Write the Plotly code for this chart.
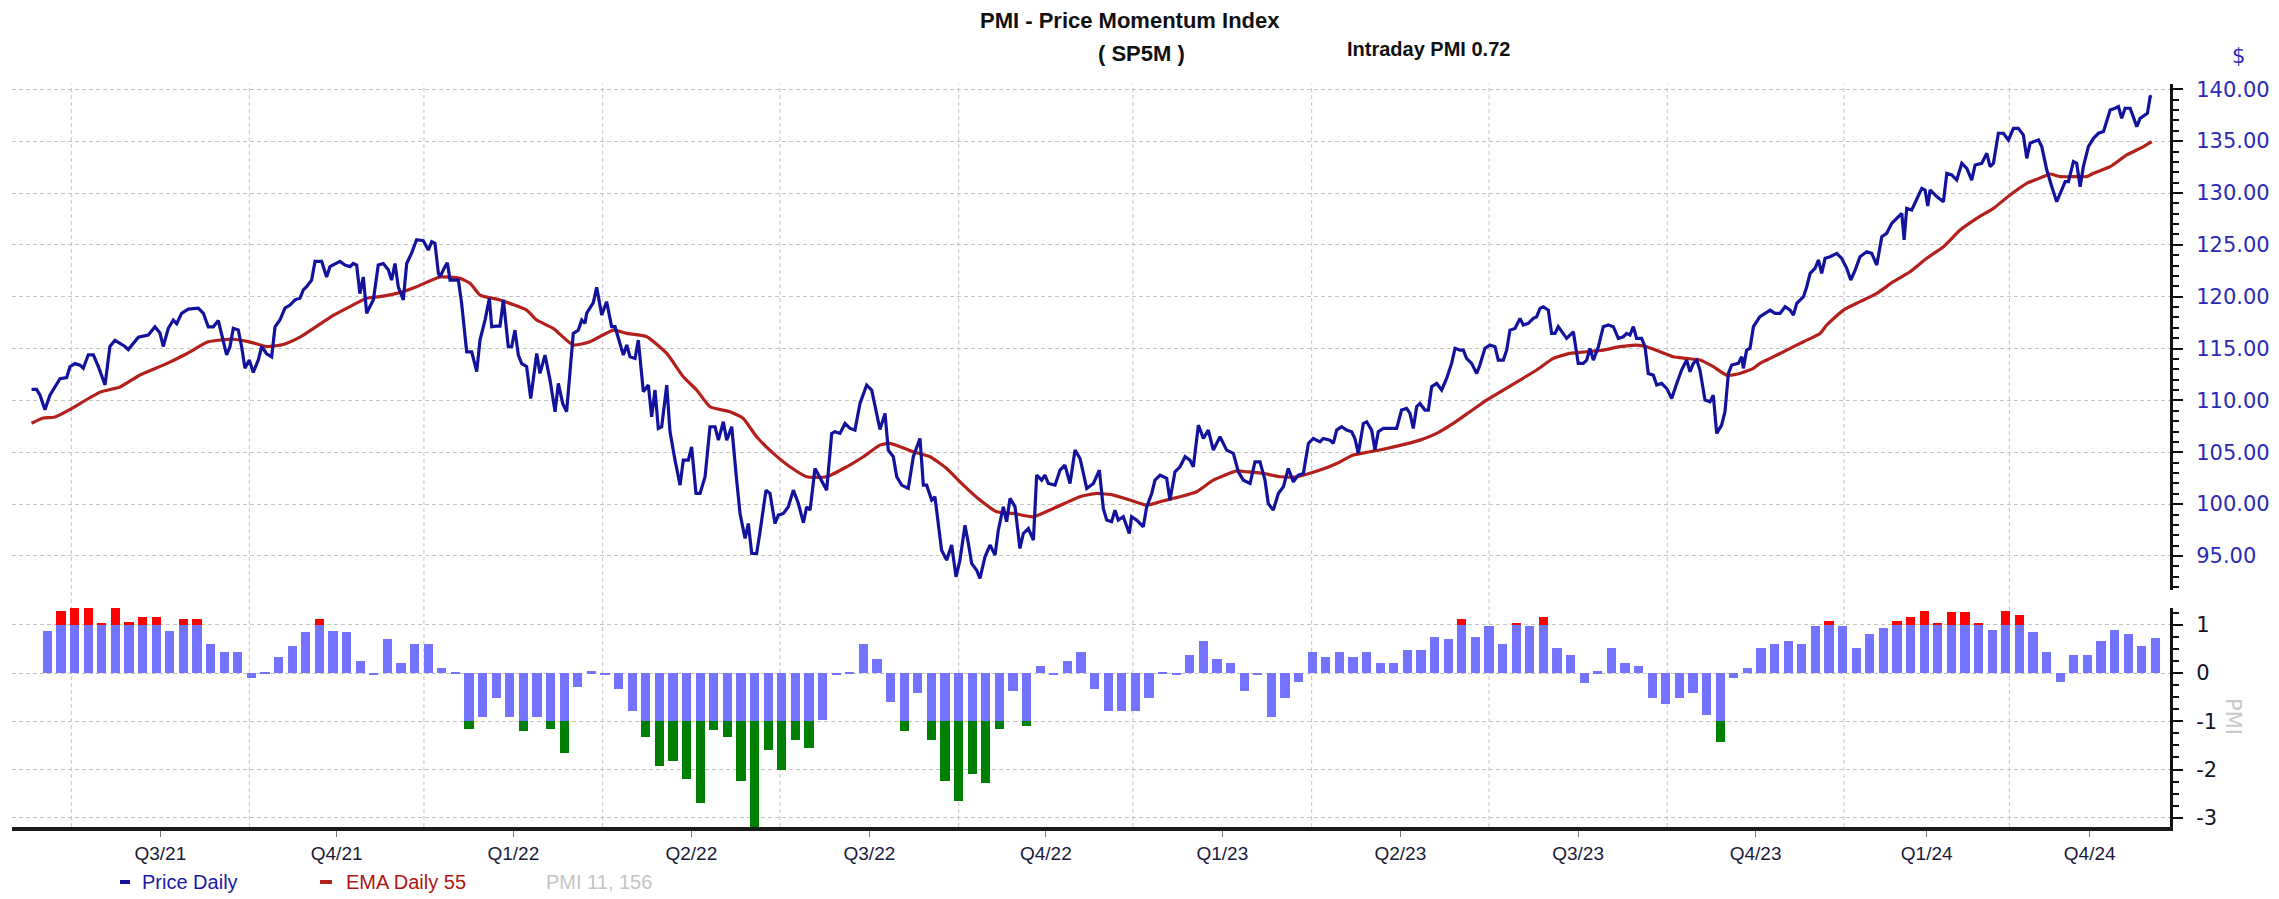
import plotly.graph_objects as go

# ---------------- data ----------------
weeks = list(range(156))
pmi = [0.88, 1.29, 1.44, 1.34, 1.03, 1.34, 1.05, 1.16, 1.16, 0.88, 1.12, 1.12, 0.61, 0.43, 0.43,
       -0.10, 0.01, 0.34, 0.57, 0.84, 1.12, 0.88, 0.84, 0.25, -0.03, 0.71, 0.20, 0.61, 0.61, 0.11, 0.02,
       -1.15, -0.91, -0.51, -0.91, -1.20, -0.91, -1.15, -1.65, -0.28, 0.04, -0.05, -0.33, -0.78, -1.33,
       -1.93, -1.83, -2.19, -2.69, -1.19, -1.33, -2.24, -3.20, -1.60, -2.00,
       -1.38, -1.56, -0.98, -0.03, 0.02, 0.61, 0.29, -0.61, -1.20, -0.42, -1.38, -2.24, -2.65, -2.10,
       -2.28, -1.15, -0.38, -1.10, 0.15, -0.03, 0.25, 0.43, -0.33, -0.78, -0.78, -0.78, -0.51, 0.02,
       -0.04, 0.38, 0.66, 0.29, 0.20, -0.38, -0.03, -0.91, -0.51, -0.19, 0.43, 0.34, 0.43, 0.34, 0.43,
       0.20, 0.20, 0.48, 0.48, 0.75, 0.71, 1.12, 0.75, 0.98, 0.61, 1.03, 0.98, 1.17, 0.52, 0.38, -0.20,
       0.04, 0.52, 0.20, 0.15, -0.52, -0.65, -0.52, -0.42, -0.87, -1.43, -0.11, 0.10, 0.52, 0.61, 0.66,
       0.61, 0.98, 1.07, 0.98, 0.52, 0.80, 0.94, 1.07, 1.17, 1.29, 1.03, 1.26, 1.26, 1.03, 0.89, 1.29,
       1.21, 0.84, 0.43, -0.19, 0.38, 0.38, 0.66, 0.89, 0.80, 0.57, 0.72]

price_wk = [-1.16, -0.79, -0.54, -0.18, 0.19, 0.56, 0.93, 1.42, 1.66, 2.03, 2.4, 2.64, 3.01, 3.38, 3.75, 4.24,
            4.6, 4.97, 5.34, 5.71, 5.95, 6.32, 6.69, 7.05, 7.42, 7.91, 8.28, 8.52, 8.89, 9.26, 9.51, 9.87,
            10.36, 11.1, 11.47, 11.83, 12.2, 12.57, 12.81, 13.18, 13.43, 13.67, 14.04, 14.28, 14.53, 14.85,
            15.14, 15.51, 15.76, 16.12, 16.49, 16.74, 17.1, 17.47, 17.84, 18.21, 18.57, 18.82, 19.06, 19.43,
            19.68, 20.17, 20.53, 20.78, 21.51, 21.88, 22.25, 22.49, 22.74, 22.98, 23.23, 23.48, 23.72, 23.97,
            24.33, 24.7, 25.07, 25.31, 25.56, 25.8, 26.17, 26.42, 26.78, 27.15, 27.64, 28.01, 28.26, 28.5,
            28.75, 28.87, 29.24, 29.41, 29.61, 29.97, 30.22, 30.46, 30.83, 31.2, 31.57, 31.81, 32.18, 32.5,
            32.67, 33.04, 33.28, 33.53, 33.89, 34.14, 34.38, 34.63, 34.87, 35.24, 35.54, 35.98, 36.22, 36.59,
            36.96, 37.33, 37.57, 37.89, 38.18, 38.67, 39.04, 39.29, 39.53, 39.65, 40.14, 40.39, 40.76, 41.12,
            41.49, 41.74, 42.11, 42.35, 42.6, 42.84, 43.21, 43.45, 43.82, 44.19, 44.43, 44.68, 44.92, 45.17,
            45.54, 45.78, 46.15, 46.52, 46.76, 47.13, 47.37, 47.69, 47.99, 48.36, 48.72, 49.09, 49.34, 49.7,
            49.95, 50.32, 50.68, 50.93, 51.3, 51.54, 51.79, 52.15, 52.4, 52.84, 53.13, 53.5, 53.75, 54.12,
            54.48, 54.85, 55.22, 55.59, 55.83, 56.08, 56.44, 56.81, 57.3, 57.67, 57.91, 58.28, 58.65, 59.02,
            59.38, 59.75, 60.24, 60.61, 60.85, 61.22, 61.59, 61.83, 62.2, 62.45, 62.81, 63.3, 63.67, 64.16,
            64.41, 64.65, 65.02, 65.26, 65.75, 66.12, 66.49, 66.81, 67.1, 67.47, 67.72, 67.96, 68.33, 68.57,
            68.94, 69.31, 69.68, 69.92, 70.29, 70.53, 70.78, 71.15, 71.51, 71.76, 72.13, 72.5, 72.74, 73.11,
            73.35, 73.6, 74.09, 74.46, 74.82, 75.19, 75.56, 75.93, 76.42, 76.91, 77.35, 77.64, 77.89, 78.25,
            78.5, 78.74, 79.11, 79.55, 79.72, 80.09, 80.58, 80.83, 81.2, 81.44, 81.81, 82.3, 82.54, 82.91,
            83.28, 83.65, 84.01, 84.26, 84.63, 85.0, 85.36, 85.73, 86.22, 86.71, 87.2, 87.57, 87.94, 88.43,
            88.79, 89.16, 89.53, 89.77, 90.14, 90.51, 90.88, 91.24, 91.61, 91.98, 92.35, 92.72, 93.08, 93.57,
            93.82, 94.31, 94.55, 94.8, 95.16, 95.53, 95.9, 96.14, 96.39, 96.76, 97.0, 97.37, 97.61, 97.86,
            98.23, 98.72, 99.21, 99.57, 99.94, 100.19, 100.43, 100.68, 100.92, 101.29, 101.54, 101.78, 102.15,
            102.52, 102.88, 103.25, 103.5, 103.86, 104.11, 104.35, 104.72, 105.09, 105.33, 105.7, 106.07,
            106.44, 106.68, 107.05, 107.3, 107.54, 107.91, 108.28, 108.52, 108.89, 109.26, 109.5, 109.75,
            109.99, 110.36, 110.6, 110.85, 111.09, 111.34, 111.71, 112.2, 112.56, 112.93, 113.18, 113.42,
            113.67, 114.04, 114.4, 114.77, 115.14, 115.51, 115.87, 116.12, 116.36, 116.61, 116.85, 117.22,
            117.47, 117.71, 118.08, 118.33, 118.69, 119.06, 119.43, 119.8, 120.16, 120.53, 120.78, 121.02,
            121.27, 121.51, 121.88, 122.25, 122.49, 122.74, 123.1, 123.35, 123.6, 123.84, 124.33, 124.58,
            124.7, 124.94, 125.19, 125.44, 125.68, 125.92, 126.3, 126.67, 127.03, 127.4, 127.77, 128.14,
            128.38, 128.63, 129.12, 129.36, 129.61, 129.97, 130.22, 130.46, 130.71, 131.08, 131.57, 131.93,
            132.3, 132.6, 132.92, 133.28, 133.77, 134.14, 134.51, 134.88, 135.24, 135.61, 135.98, 136.35,
            136.52, 136.71, 137.08, 137.45, 137.82, 138.06, 138.26, 138.43, 138.92, 139.41, 139.66, 140.02,
            140.39, 140.76, 141.13, 141.49, 141.74, 142.23, 142.6, 142.84, 143.09, 143.45, 143.82, 144.19,
            144.56, 144.92, 145.29, 145.54, 145.78, 146.03, 146.4, 146.64, 147.01, 147.38, 147.74, 148.11,
            148.36, 148.6, 148.97, 149.21, 149.46, 149.7, 150.07, 150.44, 150.81, 151.18, 151.42, 151.67,
            152.03, 152.28, 152.52, 152.77, 153.14, 153.38, 153.63, 153.87, 154.24, 154.41, 154.61, 154.73]

price = [111.06, 111.06, 110.5, 109.1, 110.5, 111.3, 112.1, 112.2, 113.25, 113.55, 113.4, 113.1, 114.4, 114.4,
         113.25, 111.5, 115.2, 115.8, 115.5, 115.2, 114.9, 115.5, 116.1, 116.2, 116.3, 117.1, 116.5, 115.2,
         116.95, 117.75, 117.4, 118.4, 118.8, 118.9, 118.4, 117.1, 117.1, 117.7, 116.5, 114.4, 115.2, 116.95,
         116.8, 115.2, 113.1, 113.9, 112.7, 113.9, 115.2, 114.5, 114.2, 117.1, 117.75, 118.9, 119.2, 119.7,
         119.85, 120.65, 120.96, 121.6, 123.4, 123.4, 121.9, 122.9, 123.4, 123.05, 122.9, 123.2, 123.05,
         120.3, 121.9, 118.4, 119.05, 119.7, 123.05, 123.2, 122.6, 121.6, 123.2, 120.96, 119.7, 123.2, 124.2,
         125.5, 125.4, 124.5, 125.3, 125.15, 122.25, 121.93, 122.9, 123.28, 121.6, 121.6, 121.6, 119.36,
         114.69, 114.69, 112.77, 115.82, 117.75, 119.84, 117.11, 117.17, 117.17, 119.68, 115.18, 115.18,
         116.78, 114.37, 113.57, 113.25, 110.19, 114.53, 112.6, 114.37, 111.96, 108.91, 111.64, 109.71,
         108.91, 116.46, 116.78, 117.75, 117.43, 118.39, 119.42, 120.9, 118.23, 119.52, 117.11, 117.11,
         115.5, 114.37, 115.34, 114.21, 114.05, 115.82, 110.84, 111.48, 108.42, 111.0, 107.3, 107.46,
         111.48, 107.0, 104.24, 101.83, 104.24, 104.24, 105.53, 101.03, 101.03, 102.64, 107.46, 107.46,
         106.17, 107.94, 106.17, 107.46, 102.31, 99.1, 96.69, 98.13, 95.24, 95.24, 97.33, 101.35, 101.03,
         98.13, 98.94, 99.1, 99.74, 101.35, 100.06, 98.2, 99.74, 99.42, 103.44, 102.48, 101.35, 106.82,
         106.98, 106.82, 107.78, 107.3, 107.14, 109.71, 111.48, 111.0, 109.39, 107.2, 108.75, 105.21,
         104.57, 102.64, 101.83, 101.51, 104.57, 106.33, 101.83, 101.83, 100.39, 100.71, 95.56, 94.6, 96.05,
         92.99, 94.6, 97.97, 96.21, 94.28, 93.63, 92.83, 94.92, 96.05, 95.08, 97.49, 99.74, 98.3, 100.55,
         99.74, 95.72, 97.17, 97.65, 96.53, 102.8, 102.31, 102.8, 101.99, 101.83, 103.28, 103.76, 101.99,
         105.21, 104.4, 101.51, 101.99, 103.28, 99.58, 98.46, 98.3, 99.42, 98.46, 98.78, 97.17, 98.78, 98.46,
         97.81, 99.74, 101.03, 102.31, 102.8, 102.48, 100.39, 103.12, 103.6, 104.57, 104.24, 103.6, 107.62,
         106.33, 107.14, 105.21, 106.49, 105.21, 104.89, 103.12, 102.31, 101.99, 104.08, 104.08, 102.31,
         100.06, 99.42, 101.03, 101.67, 103.44, 102.15, 102.8, 102.96, 105.85, 106.33, 106.0, 106.33,
         106.17, 105.85, 107.14, 107.46, 107.14, 106.98, 106.33, 104.89, 107.78, 107.94, 107.14, 105.21,
         106.98, 107.3, 107.3, 107.3, 109.07, 109.23, 108.75, 107.3, 109.39, 109.71, 109.07, 109.07, 111.32,
         111.64, 111.0, 112.12, 113.57, 115.02, 114.85, 114.85, 114.05, 113.57, 112.6, 113.41, 115.02,
         115.34, 115.18, 113.89, 113.89, 114.85, 116.78, 116.94, 117.91, 117.27, 117.43, 117.91, 118.07,
         118.87, 119.03, 118.71, 116.46, 116.46, 117.11, 116.62, 115.98, 116.62, 113.57, 113.57, 113.89,
         115.02, 113.89, 115.18, 117.11, 117.27, 117.11, 115.98, 116.14, 116.46, 116.3, 117.11, 115.98,
         115.98, 115.18, 112.6, 112.44, 111.48, 111.64, 111.16, 110.19, 111.64, 112.93, 113.89, 112.77,
         113.57, 113.89, 112.93, 110.03, 109.87, 110.51, 106.82, 107.62, 108.91, 112.6, 113.41, 113.57,
         114.21, 113.09, 114.85, 115.02, 117.11, 117.59, 118.07, 118.39, 118.71, 118.39, 118.39, 119.03,
         118.71, 118.23, 119.36, 120.0, 120.96, 122.25, 122.73, 123.54, 122.25, 123.7, 123.86, 124.18,
         123.7, 122.73, 121.61, 122.57, 123.86, 124.34, 124.18, 123.05, 125.79, 126.11, 127.07, 127.56,
         128.04, 125.47, 128.52, 128.36, 129.32, 130.45, 130.29, 128.75, 130.29, 129.65, 129.16, 131.9,
         131.74, 131.25, 132.86, 132.38, 131.25, 132.7, 132.86, 133.83, 132.54, 132.86, 135.76, 135.76,
         135.11, 136.24, 136.24, 135.59, 133.34, 134.79, 134.95, 135.11, 134.47, 132.22, 130.61, 129.16,
         130.29, 131.09, 131.09, 133.02, 132.86, 130.61, 132.54, 134.47, 135.27, 135.76, 135.92, 137.04,
         138.01, 138.17, 138.33, 137.2, 138.17, 138.17, 137.36, 136.4, 137.2, 137.52, 137.68, 139.29, 139.36]

ema_wk = [-1.16, -0.3, 0.56, 1.76, 3.87, 5.34, 6.81, 8.77, 10.24, 11.83, 13.67, 14.85, 16.12, 17.35, 18.57,
          21.02, 22.25, 23.48, 24.7, 25.93, 27.15, 28.87, 30.34, 31.08, 31.81, 33.28, 35.24, 35.98, 37.2,
          38.67, 39.9, 41.62, 42.6, 44.07, 45.54, 46.76, 47.74, 48.72, 50.19, 51.17, 52.15, 53.38, 54.6,
          55.83, 57.3, 58.77, 60.0, 61.22, 61.96, 63.67, 64.9, 66.12, 67.35, 68.57, 69.8, 71.02, 72.5, 73.97,
          75.93, 77.15, 78.38, 79.6, 80.83, 82.05, 83.28, 84.5, 85.73, 87.45, 88.18, 89.41, 90.63, 91.86,
          93.57, 94.8, 96.02, 97.25, 98.47, 100.92, 102.15, 103.37, 104.6, 105.82, 107.05, 108.28, 109.5,
          110.73, 111.95, 113.18, 114.4, 115.63, 116.85, 117.59, 118.57, 119.55, 120.53, 121.51, 122.49,
          123.47, 124.45, 125.44, 125.92, 126.67, 127.89, 129.12, 130.34, 130.83, 132.06, 133.28, 134.51,
          135.73, 136.96, 138.18, 139.41, 140.64, 141.86, 143.09, 144.31, 145.54, 146.76, 147.25, 147.99,
          149.21, 149.95, 150.44, 151.67, 152.89, 154.12, 154.73]
ema = [107.8, 108.3, 108.4, 109.2, 110.8, 111.3, 112.45, 113.55, 114.5, 115.65, 115.9, 115.65, 115.2, 115.4,
       116.1, 118.2, 119.05, 119.85, 120.05, 120.4, 120.96, 121.9, 121.77, 121.29, 120.16, 119.68, 118.71,
       117.75, 116.94, 115.34, 115.66, 116.78, 116.46, 116.14, 114.53, 112.28, 111.0, 109.39, 108.91, 108.26,
       106.49, 104.89, 103.6, 102.64, 102.64, 103.6, 104.57, 105.69, 105.85, 105.05, 104.57, 103.44, 101.83,
       100.39, 99.26, 99.1, 98.78, 99.58, 100.71, 101.03, 100.87, 100.39, 99.9, 100.32, 100.71, 101.19,
       102.31, 103.21, 103.12, 102.96, 102.64, 102.64, 103.28, 103.92, 104.73, 105.05, 105.37, 106.17,
       106.82, 107.78, 108.91, 110.03, 111.0, 111.96, 112.93, 114.05, 114.53, 114.69, 114.85, 115.18,
       115.34, 115.18, 114.69, 114.21, 114.05, 113.89, 113.25, 112.44, 112.6, 113.09, 113.57, 114.05,
       114.85, 115.66, 116.46, 117.27, 118.71, 119.52, 120.32, 121.45, 122.41, 123.7, 124.82, 126.43,
       127.56, 128.52, 129.81, 130.93, 131.58, 131.83, 131.58, 131.58, 131.58, 131.9, 132.54, 133.67,
       134.47, 134.95]

quarter_starts = [1.76, 14.85, 27.69, 40.83, 53.87, 67.01, 79.82, 92.96, 106.0, 119.1, 132.1, 144.26]
quarter_labels = ["Q3/21", "Q4/21", "Q1/22", "Q2/22", "Q3/22", "Q4/22", "Q1/23", "Q2/23",
                  "Q3/23", "Q4/23", "Q1/24", "Q4/24"]
price_ticks = [95, 100, 105, 110, 115, 120, 125, 130, 135, 140]
pmi_ticks = [-3, -2, -1, 0, 1]

# ---------------- geometry ----------------
# the page body adds an 8px margin, so figure coordinates = target pixel - 8
W, H = 2279, 899
OFF = 8
ML, MR, MT, MB = 4, 117, 76, 80
PW = W - ML - MR
PH = H - MT - MB
X_MIN, X_MAX = -2.6, 156.07


def px(x):
    return (x - OFF - ML) / PW


def py(y):
    return (H - MB - (y - OFF)) / PH


label_pos = [(a + b) / 2 for a, b in zip(quarter_starts, quarter_starts[1:] + [X_MAX])]

SANS = "Liberation Sans, Arial, sans-serif"
VERD = "DejaVu Sans, Verdana, sans-serif"
GRID = "#c4c4c4"
BLUE_LINE = "#12129c"
RED_LINE = "#b3201c"

blue_part = [max(-1.0, min(1.0, v)) for v in pmi]
red_part = [max(0.0, v - 1.0) for v in pmi]
green_part = [min(0.0, v + 1.0) for v in pmi]

fig = go.Figure()
fig.add_trace(go.Scatter(x=ema_wk, y=ema, mode="lines", xaxis="x", yaxis="y",
                         line=dict(color=RED_LINE, width=3.2, shape="spline", smoothing=0.5),
                         name="EMA Daily 55", showlegend=False))
fig.add_trace(go.Scatter(x=price_wk, y=price, mode="lines", xaxis="x", yaxis="y",
                         line=dict(color=BLUE_LINE, width=3.2),
                         name="Price Daily", showlegend=False))
for part, col in [(blue_part, "#7373ff"), (red_part, "#ff0000"), (green_part, "#008000")]:
    fig.add_trace(go.Bar(x=weeks, y=part, xaxis="x2", yaxis="y2", width=0.68,
                         marker=dict(color=col, line=dict(width=0)), showlegend=False))

shapes = []
for q in quarter_starts:
    shapes.append(dict(type="line", xref="x", yref="paper", x0=q, x1=q, y0=0, y1=1,
                       line=dict(color=GRID, width=1, dash="4px,3px"), layer="below"))
# legend swatches
for x0, x1, col in [(120, 130, BLUE_LINE), (320, 332, RED_LINE)]:
    shapes.append(dict(type="line", xref="paper", yref="paper", x0=px(x0), x1=px(x1),
                       y0=py(882), y1=py(882), line=dict(color=col, width=4)))

annotations = [
    dict(text="<b>PMI - Price Momentum Index</b>", x=px(1130), y=py(20), xanchor="center",
         font=dict(family=SANS, size=22, color="#111111")),
    dict(text="<b>( SP5M )</b>", x=px(1141), y=py(54), xanchor="center",
         font=dict(family=SANS, size=22, color="#111111")),
    dict(text="<b>Intraday PMI 0.72</b>", x=px(1428), y=py(49), xanchor="center",
         font=dict(family=SANS, size=20, color="#111111")),
    dict(text="$", x=px(2238), y=py(56), xanchor="center",
         font=dict(family=VERD, size=21, color="#2a2ab8")),
    dict(text="PMI", x=px(2233), y=py(716), textangle=90, xanchor="center",
         font=dict(family=VERD, size=21, color="#c8c8c8")),
    dict(text="Price Daily", x=px(140), y=py(882), xanchor="left",
         font=dict(family=SANS, size=20, color="#1a1aa6")),
    dict(text="EMA Daily 55", x=px(344), y=py(882), xanchor="left",
         font=dict(family=SANS, size=20, color="#b01414")),
    dict(text="PMI 11, 156", x=px(544), y=py(882), xanchor="left",
         font=dict(family=SANS, size=20, color="#c4c4c4")),
]
for a in annotations:
    a.update(xref="paper", yref="paper", showarrow=False, yanchor="middle")

fig.update_layout(
    width=W, height=H, autosize=False,
    margin=dict(l=ML, r=MR, t=MT, b=MB, pad=0),
    paper_bgcolor="white", plot_bgcolor="white",
    barmode="relative", bargap=0,
    showlegend=False,
    shapes=shapes, annotations=annotations,
    xaxis=dict(domain=[0, 1], anchor="y", range=[X_MIN, X_MAX], showticklabels=False,
               showgrid=False, zeroline=False, ticks="", showline=False),
    xaxis2=dict(domain=[0, 1], anchor="y2", matches="x", range=[X_MIN, X_MAX],
                tickmode="array", tickvals=label_pos, ticktext=quarter_labels,
                ticks="outside", ticklen=6, tickwidth=1, tickcolor="#777777",
                showline=True, linewidth=4, linecolor="#1a1a1a",
                showgrid=False, zeroline=False,
                tickfont=dict(family=SANS, size=19, color="#1a1a3a")),
    yaxis=dict(domain=[py(590), 1], anchor="x", side="right", range=[91.72, 140.51],
               tickmode="array", tickvals=price_ticks, tickformat=".2f",
               showgrid=True, gridcolor=GRID, griddash="4px,3px", gridwidth=1,
               showline=True, linewidth=3, linecolor="#111111",
               ticks="outside", ticklen=10, tickwidth=2, tickcolor="#111111",
               ticklabelstandoff=9,
               minor=dict(tickmode="linear", tick0=0, dtick=1, ticks="outside", ticklen=6,
                          tickwidth=2, tickcolor="#111111", showgrid=False),
               zeroline=False,
               tickfont=dict(family=VERD, size=21, color="#2a2ab8")),
    yaxis2=dict(domain=[0, py(608)], anchor="x2", side="right", range=[-3.19, 1.347],
                tickmode="array", tickvals=pmi_ticks, ticktext=[str(v) for v in pmi_ticks],
                showgrid=True, gridcolor=GRID, griddash="4px,3px", gridwidth=1,
                showline=True, linewidth=3, linecolor="#111111",
                ticks="outside", ticklen=10, tickwidth=2, tickcolor="#111111",
                ticklabelstandoff=9,
                minor=dict(tickmode="linear", tick0=0, dtick=0.25, ticks="outside", ticklen=6,
                           tickwidth=2, tickcolor="#111111", showgrid=False),
                zeroline=False,
                tickfont=dict(family=VERD, size=21, color="#141428")),
)

fig.write_html("out.html")
